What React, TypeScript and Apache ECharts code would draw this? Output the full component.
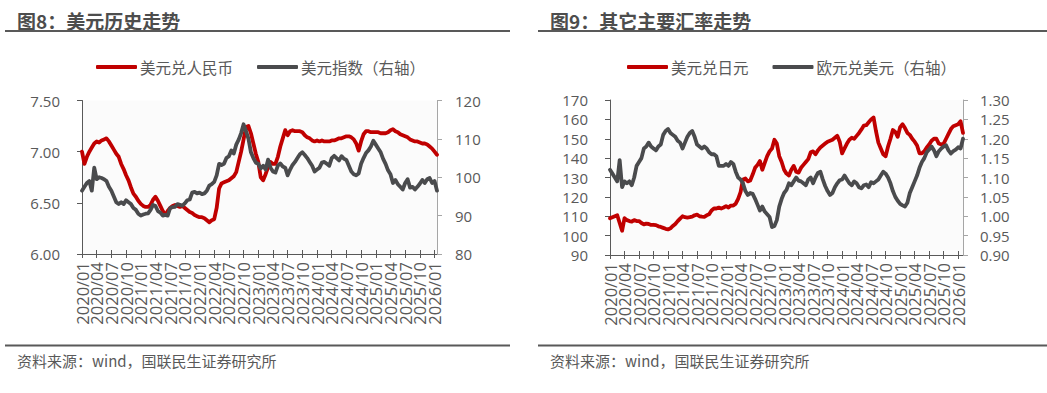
import React, { useEffect, useRef } from "react";
import * as echarts from "echarts";

// ---- categories: semi-monthly dates ----
const buildDates = (lastY: number, lastM: number, lastD: number): string[] => {
  const out: string[] = [];
  for (let y = 2020; y <= lastY; y++) {
    for (let m = 1; m <= 12; m++) {
      for (const d of [1, 16]) {
        if (y === lastY && (m > lastM || (m === lastM && d > lastD))) return out;
        out.push(`${y}/${String(m).padStart(2, "0")}/${String(d).padStart(2, "0")}`);
      }
    }
  }
  return out;
};
const datesLeft = buildDates(2026, 1, 16);
const datesRight = buildDates(2026, 2, 1);

// ---- Figure 8 ----
const titleLeft = "图8：美元历史走势";
const usdCnyName = "美元兑人民币";
const dxyName = "美元指数（右轴）";
const usdCny = [
  7.0, 6.88, 6.95, 7.0, 7.04, 7.08, 7.1, 7.09, 7.11, 7.12, 7.13, 7.1, 7.06, 7.02, 6.98, 6.95, 6.88, 6.83, 6.77, 6.72,
  6.65, 6.59, 6.56, 6.52, 6.49, 6.47, 6.46, 6.46, 6.48, 6.53, 6.56, 6.52, 6.47, 6.42, 6.38, 6.42, 6.45, 6.47, 6.48, 6.47,
  6.46, 6.47, 6.45, 6.43, 6.41, 6.4, 6.38, 6.37, 6.36,
  6.36, 6.35, 6.33, 6.31, 6.33, 6.34, 6.45, 6.64, 6.69, 6.7, 6.71, 6.72, 6.74, 6.76, 6.8, 6.9, 7.0, 7.12, 7.24, 7.25,
  7.18, 7.08, 6.98, 6.9, 6.75, 6.72, 6.78, 6.85, 6.9, 6.88, 6.88, 6.95, 7.05, 7.13, 7.21, 7.16, 7.2, 7.21, 7.2, 7.2,
  7.2, 7.19, 7.16, 7.14, 7.13, 7.11, 7.1, 7.11,
  7.1, 7.11, 7.1, 7.1, 7.1, 7.11, 7.11, 7.12, 7.13, 7.13, 7.14, 7.15, 7.15, 7.14, 7.12, 7.08, 7.01, 7.1, 7.17, 7.2,
  7.2, 7.19, 7.19, 7.19, 7.19, 7.18, 7.18, 7.18, 7.19, 7.21, 7.22, 7.2, 7.19, 7.17, 7.16, 7.15, 7.14, 7.12, 7.11, 7.1,
  7.1, 7.09, 7.08, 7.08, 7.07, 7.05, 7.03, 7.0, 6.97,
];
const dxy = [
  96.5, 97.5, 98.5, 99.0, 96.5, 102.5, 99.5, 100.0, 99.8, 99.5, 99.0, 97.5, 96.5, 95.0, 93.5, 93.0, 93.5, 93.0, 94.0, 93.5,
  93.0, 92.0, 91.5, 90.5, 90.0, 90.3, 90.5, 90.6, 91.5, 92.8, 92.5, 91.2, 90.8, 90.0, 90.2, 90.0, 92.0, 92.2, 92.3, 93.0,
  92.8, 92.6, 93.2, 94.0, 94.2, 96.0, 96.2, 95.8, 96.0,
  95.6, 95.8, 96.5, 97.8, 98.2, 98.8, 100.5, 103.5, 103.2, 103.5, 105.0, 105.5, 107.0, 106.2, 108.5, 109.8, 111.5, 113.8, 112.0, 110.0,
  106.5, 105.0, 103.8, 103.5, 102.3, 103.0, 102.0, 104.6, 102.5, 101.5, 101.2, 103.0, 103.6, 102.8, 102.5, 100.5, 102.0, 103.2, 104.0, 105.0,
  106.0, 106.5, 105.8, 105.0, 104.0, 103.0, 101.5, 102.0,
  102.5, 103.8, 104.0, 103.5, 103.0, 105.0, 105.6, 105.0, 104.4, 105.5, 104.8, 104.5, 103.0, 101.5, 100.8, 100.5, 101.0, 103.5, 105.0, 106.3,
  107.0, 108.0, 109.5, 108.5, 107.5, 106.5, 104.8, 103.5, 101.8, 100.8, 98.5, 99.3, 98.2, 97.5, 96.8, 98.5, 99.5, 97.3, 97.5, 96.8,
  97.5, 98.3, 99.3, 98.5, 99.5, 99.8, 98.5, 99.0, 96.5,
];
const leftAxisCny = { min: 6.0, max: 7.5, interval: 0.5 };
const rightAxisDxy = { min: 80, max: 120, interval: 10 };

// ---- Figure 9 ----
const titleRight = "图9：其它主要汇率走势";
const usdJpyName = "美元兑日元";
const eurUsdName = "欧元兑美元（右轴）";
const usdJpy = [
  109.0, 109.5, 110.0, 110.5, 106.5, 102.5, 109.0, 108.0, 107.5, 107.2, 108.0, 107.5, 107.5, 106.5, 105.8, 106.2, 106.0, 105.5, 105.6, 105.4,
  104.8, 104.5, 104.0, 103.5, 103.2, 103.8, 105.0, 106.0, 107.5, 108.8, 110.0, 109.5, 109.3, 109.5, 109.8, 110.5, 110.8, 110.0, 109.8, 109.7,
  110.5, 111.0, 113.0, 114.0, 114.0, 114.5, 114.0, 114.5, 115.2,
  114.5, 115.5, 115.5, 116.5, 119.0, 122.5, 129.0, 129.5, 128.0, 128.5, 131.5, 135.0, 136.5, 138.5, 134.0, 137.5, 141.0, 143.5, 145.0, 149.5,
  147.5, 141.0, 138.0, 134.0, 132.0, 131.0, 134.0, 136.0, 133.0, 132.5, 135.0, 136.5, 138.0, 139.5, 143.0, 143.5, 142.0, 144.0, 145.5, 146.5,
  147.5, 148.5, 149.0, 149.5, 150.5, 151.5, 148.5, 142.5,
  145.0, 147.5, 149.5, 150.5, 150.0, 151.5, 153.0, 154.8, 156.8, 157.0, 158.5, 160.0, 161.0, 154.0, 148.0, 145.0, 142.0, 141.0, 146.0, 150.0,
  154.5, 153.5, 151.0, 156.0, 157.5, 155.5, 153.0, 152.0, 150.0, 148.5, 146.5, 142.5, 142.5, 143.5, 145.5, 147.0, 149.0, 150.0, 150.0, 147.5,
  147.0, 147.5, 150.0, 152.5, 155.0, 156.5, 157.0, 157.5, 159.0, 153.0,
];
const eurUsd = [
  1.12, 1.11, 1.1, 1.09, 1.145, 1.075, 1.09, 1.085, 1.09, 1.08, 1.1, 1.13, 1.14, 1.15, 1.175, 1.18, 1.19, 1.18, 1.175, 1.17,
  1.18, 1.185, 1.21, 1.22, 1.225, 1.215, 1.21, 1.205, 1.195, 1.19, 1.175, 1.19, 1.205, 1.215, 1.22, 1.205, 1.185, 1.18, 1.175, 1.18,
  1.175, 1.165, 1.16, 1.16, 1.155, 1.13, 1.13, 1.13, 1.135,
  1.13, 1.14, 1.135, 1.115, 1.1, 1.095, 1.085, 1.065, 1.055, 1.06, 1.058, 1.045, 1.03, 1.015, 1.025, 1.012, 1.005, 0.998, 0.972, 0.975,
  0.99, 1.025, 1.045, 1.06, 1.068, 1.085, 1.08, 1.09, 1.1, 1.092, 1.09, 1.085, 1.08, 1.095, 1.1, 1.085, 1.1, 1.112, 1.115, 1.095,
  1.078, 1.065, 1.055, 1.06, 1.075, 1.085, 1.093, 1.095,
  1.105, 1.095, 1.085, 1.08, 1.09, 1.085, 1.075, 1.072, 1.08, 1.082, 1.075, 1.088, 1.085, 1.09, 1.095, 1.105, 1.115, 1.11, 1.1, 1.085,
  1.065, 1.05, 1.04, 1.032, 1.028, 1.025, 1.035, 1.06, 1.075, 1.09, 1.105, 1.125, 1.14, 1.15, 1.165, 1.172, 1.18, 1.17, 1.155, 1.168,
  1.175, 1.18, 1.183, 1.17, 1.162, 1.168, 1.172, 1.178, 1.175, 1.2,
];
const leftAxisJpy = { min: 90, max: 170, interval: 10 };
const rightAxisEur = { min: 0.9, max: 1.3, interval: 0.05 };

const sourceText = "资料来源：wind，国联民生证券研究所";

const RED = "#C00000";
const GRAY = "#4A4B4D";
const AXIS_DARK = "#595959";
const AXIS_LIGHT = "#A6A6A6";
const LABEL = "#595959";
const NUM_FONT = "'Open Sans', 'Noto Sans CJK SC', sans-serif";
const CJK_FONT = "'Noto Sans CJK SC', 'Microsoft YaHei', sans-serif";

const isQuarterStart = (v: string) => {
  const parts = v.split("/");
  return parts[2] === "01" && ["01", "04", "07", "10"].includes(parts[1]);
};

function mainXAxis(gridIndex: number, data: string[]) {
  return {
    type: "category",
    gridIndex,
    data,
    boundaryGap: false,
    axisLine: { show: true, lineStyle: { color: AXIS_DARK, width: 1 } },
    axisTick: {
      show: true,
      inside: false,
      length: 4,
      interval: (_i: number, v: string) => isQuarterStart(v),
      lineStyle: { color: AXIS_DARK },
    },
    axisLabel: {
      show: true,
      rotate: 90,
      margin: 8,
      interval: 0,
      formatter: (v: string) => (isQuarterStart(v) ? v.slice(0, 7) : ""),
      color: LABEL,
      fontSize: 16.5,
      fontFamily: NUM_FONT,
    },
    splitLine: { show: false },
  };
}
function tickXAxis(gridIndex: number, data: string[]) {
  return {
    type: "category",
    gridIndex,
    data,
    boundaryGap: false,
    position: "bottom",
    axisLine: { show: false },
    axisTick: {
      show: true,
      inside: true,
      length: 4,
      interval: (_i: number, v: string) => isQuarterStart(v),
      lineStyle: { color: AXIS_DARK },
    },
    axisLabel: { show: false },
    splitLine: { show: false },
  };
}
function yAxis(
  gridIndex: number,
  position: "left" | "right",
  range: { min: number; max: number; interval: number },
  digits: number,
  color: string,
  margin: number
) {
  return {
    type: "value",
    gridIndex,
    position,
    min: range.min,
    max: range.max,
    interval: range.interval,
    axisLine: { show: true, lineStyle: { color, width: 1 } },
    axisTick: { show: true, inside: false, length: 5, lineStyle: { color } },
    axisLabel: {
      show: true,
      margin,
      color: LABEL,
      fontSize: 15,
      fontFamily: NUM_FONT,
      formatter: (v: number) => v.toFixed(digits),
    },
    splitLine: { show: false },
  };
}

function lineSeries(name: string, data: number[], color: string, xAxisIndex: number, yAxisIndex: number) {
  return {
    name,
    type: "line",
    data,
    xAxisIndex,
    yAxisIndex,
    showSymbol: false,
    symbol: "none",
    lineStyle: { color, width: 3.8, join: "round", cap: "round" },
    itemStyle: { color },
    emphasis: { disabled: true },
  };
}

function legendAt(left: number, names: string[]) {
  return {
    left,
    top: 52,
    data: names,
    icon: "roundRect",
    itemWidth: 41,
    itemHeight: 4,
    itemGap: 24,
    selectedMode: false,
    textStyle: { color: LABEL, fontSize: 15.5, fontFamily: CJK_FONT, lineHeight: 20, padding: [0, 0, 0, -2] },
  };
}

export default function App() {
  const ref = useRef<HTMLDivElement>(null);
  useEffect(() => {
    if (!ref.current) return;
    const chart = echarts.init(ref.current, undefined, { renderer: "svg" });
    const option = {
      animation: false,
      backgroundColor: "#FFFFFF",
      grid: [
        { left: 82, right: 1047 - 437, top: 100.5, bottom: 393 - 254, show: true, backgroundColor: "#FBFBFB", borderWidth: 0 },
        { left: 610, right: 1047 - 963, top: 100, bottom: 393 - 255, show: true, backgroundColor: "#FBFBFB", borderWidth: 0 },
      ],
      legend: [legendAt(91, [usdCnyName, dxyName]), legendAt(622, [usdJpyName, eurUsdName])],
      xAxis: [
        mainXAxis(0, datesLeft),
        tickXAxis(0, datesLeft),
        mainXAxis(1, datesRight),
        tickXAxis(1, datesRight),
      ],
      yAxis: [
        yAxis(0, "left", leftAxisCny, 2, AXIS_DARK, 22),
        yAxis(0, "right", rightAxisDxy, 0, AXIS_LIGHT, 18),
        yAxis(1, "left", leftAxisJpy, 0, AXIS_DARK, 22),
        yAxis(1, "right", rightAxisEur, 2, AXIS_LIGHT, 17),
      ],
      series: [
        lineSeries(usdCnyName, usdCny, RED, 0, 0),
        lineSeries(dxyName, dxy, GRAY, 0, 1),
        lineSeries(usdJpyName, usdJpy, RED, 2, 2),
        lineSeries(eurUsdName, eurUsd, GRAY, 2, 3),
      ],
      graphic: [
        {
          type: "text",
          x: 17,
          y: 20,
          style: { text: titleLeft, font: `bold 19px ${CJK_FONT}`, fill: "#4D4D4D", verticalAlign: "middle", textVerticalAlign: "middle" },
        },
        {
          type: "text",
          x: 550,
          y: 20,
          style: { text: titleRight, font: `bold 19px ${CJK_FONT}`, fill: "#4D4D4D", verticalAlign: "middle", textVerticalAlign: "middle" },
        },
        { type: "line", shape: { x1: 5, y1: 31, x2: 510, y2: 31 }, style: { stroke: "#595959", lineWidth: 2 } },
        { type: "line", shape: { x1: 538, y1: 31, x2: 1047, y2: 31 }, style: { stroke: "#595959", lineWidth: 2 } },
        { type: "line", shape: { x1: 5, y1: 345.5, x2: 510, y2: 345.5 }, style: { stroke: "#595959", lineWidth: 2 } },
        { type: "line", shape: { x1: 538, y1: 345.5, x2: 1047, y2: 345.5 }, style: { stroke: "#595959", lineWidth: 2 } },
        {
          type: "text",
          x: 17,
          y: 360,
          style: { text: sourceText, font: `15px ${CJK_FONT}`, fill: "#595959", verticalAlign: "middle", textVerticalAlign: "middle" },
        },
        {
          type: "text",
          x: 550,
          y: 360,
          style: { text: sourceText, font: `15px ${CJK_FONT}`, fill: "#595959", verticalAlign: "middle", textVerticalAlign: "middle" },
        },
      ],
    };
    chart.setOption(option as any);
    return () => chart.dispose();
  }, []);
  return (
    <div
      ref={ref}
      style={{ position: "fixed", left: 0, top: 0, width: 1047, height: 393, background: "#fff" }}
    />
  );
}
